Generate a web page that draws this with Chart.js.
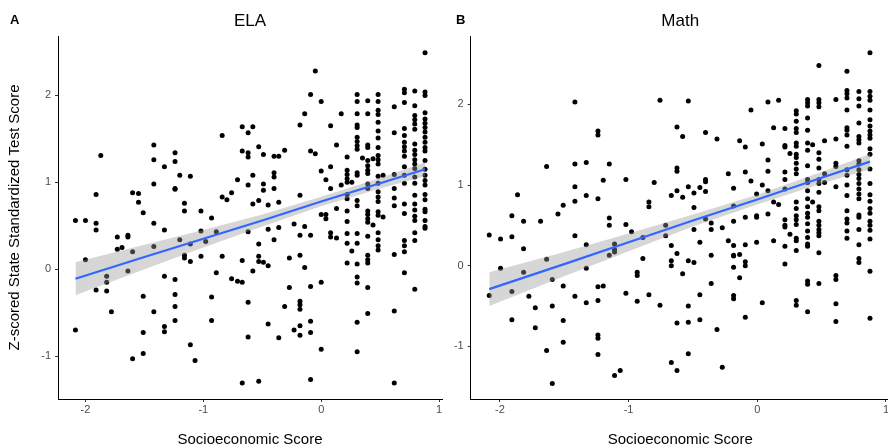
<!DOCTYPE html>
<html><head><meta charset="utf-8">
<script src="https://cdn.jsdelivr.net/npm/chart.js@4/dist/chart.umd.min.js"></script>
<style>
html,body{margin:0;padding:0;background:#fff;overflow:hidden;width:888px;height:447px;position:relative;}
canvas{position:absolute;top:0;}
#ca{left:0;}
#cb{left:446px;}
.lab{position:absolute;font:bold 13px "Liberation Sans",Arial,sans-serif;line-height:13px;color:#000;top:13px;}
</style></head>
<body>
<canvas id="ca" width="446" height="447"></canvas>
<canvas id="cb" width="448" height="447"></canvas>
<div class="lab" style="left:10px">A</div>
<div class="lab" style="left:456px">B</div>
<script>
// ---------- data ----------
const xTickVals = [-2, -1, 0, 1];
const yTickVals = [-1, 0, 1, 2];

const elaColX = [-2.085,-2.0,-1.91,-1.87,-1.82,-1.78,-1.73,-1.69,-1.64,-1.60,-1.55,-1.51,-1.42,-1.33,-1.24,-1.20,-1.16,-1.11,-1.07,-1.02,-0.98,-0.93,-0.89,-0.84,-0.80,-0.76,-0.71,-0.67,-0.62,-0.58,-0.53,-0.49,-0.45,-0.40,-0.36,-0.31,-0.27,-0.23,-0.18,-0.14,-0.09,-0.05,0.0,0.04,0.08,0.13,0.17,0.22,0.26,0.305,0.35,0.395,0.44,0.483,0.525,0.62,0.706,0.794,0.881];
const elaColY = [
[0.56,-0.70],[0.56,0.11],[0.86,0.53,0.45,-0.24],[1.31],[-0.08,-0.15,-0.25],[-0.49],[0.37,0.23],[0.25],
[0.39,0.37,-0.02],[0.88,0.20,-1.03],[0.87,0.77],[0.65,-0.31,-0.73,-0.97],[1.43,1.26,0.98,0.53,0.26,-0.49],
[1.18,0.45,-0.08,-0.66,-0.72],[1.34,1.24,0.93,0.92,-0.12,-0.29,-0.43,-0.59],[1.08,0.34],[0.76,0.67,0.16,0.13],
[1.07,0.29,0.09,-0.87],[-1.05],[0.67,0.44,0.15],[0.32],[0.59,-0.32,-0.59],[0.43,-0.04],[1.54,0.83,0.15],[0.80],
[0.88,-0.11],[1.03,-0.14],[1.64,1.36,0.10,-0.15,-1.31],[1.57,1.34,1.29,0.97,0.43,-0.38,-0.78],[1.64,1.08,0.75,-0.02],
[1.41,0.79,0.29,0.15,0.09,-1.29],[1.32,0.98,0.91,0.08],[0.74,0.46,0.04,-0.63],[1.30,1.11,1.06,0.93,0.34],
[1.30,0.77,0.48,-0.79],[1.37,-0.43],[0.13,-0.21],[0.52,-0.70],[1.66,0.85,0.39,0.16,-0.37,-0.41,-0.46,-0.65,-0.76],
[1.79,0.49,0.02],[2.01,1.36,0.39,-0.20,-0.60,-0.73,-1.27],[2.28,1.33],[1.93,1.13,0.63,-0.15,-0.92],[1.03,0.63,0.58],
[1.65,1.18,0.93,0.42,0.37],[1.43,0.70,0.36],[1.79,0.97],
[1.29,1.14,1.09,1.04,1.00,0.86,0.81,0.67,0.55,0.41,0.30,0.07],[1.00,0.21],
[2.01,1.93,1.79,1.66,1.63,1.52,1.47,1.42,1.38,1.11,1.08,0.79,0.73,0.41,0.30,0.06,-0.09,-0.16,-0.61,-0.95],[1.28],
[1.94,1.79,1.43,1.40,1.25,1.19,1.14,1.10,0.98,0.93,0.67,0.63,0.58,0.54,0.38,0.16,0.11,0.07,-0.21,-0.51],[1.27,0.51],
[2.01,1.93,1.83,1.78,1.69,1.59,1.51,1.40,1.31,1.26,1.21,1.07,0.99,0.89,0.83,0.78,0.66,0.62,0.42,0.34,0.27,0.22],[1.08,0.60],
[1.87,1.57,1.09,0.93,0.82,0.73,0.17,-0.48,-1.31],
[2.07,2.03,1.92,1.62,1.54,1.46,1.41,1.36,1.30,1.18,1.08,0.99,0.75,0.64,0.33,0.27,0.20,-0.04],
[2.05,1.88,1.77,1.72,1.67,1.61,1.44,1.37,1.32,1.26,1.21,1.16,1.06,0.99,0.85,0.75,0.68,0.61,0.56,0.42,0.33,-0.23],
[2.49,2.04,2.00,1.80,1.73,1.68,1.63,1.58,1.52,1.46,1.40,1.36,1.25,1.15,1.08,1.02,0.97,0.86,0.80,0.69,0.66,0.56,0.49,0.47]
];

const mathColX = [-2.083,-1.995,-1.907,-1.863,-1.816,-1.775,-1.725,-1.684,-1.637,-1.593,-1.549,-1.508,-1.417,-1.329,-1.238,-1.197,-1.150,-1.109,-1.065,-1.021,-0.977,-0.933,-0.889,-0.842,-0.801,-0.756,-0.712,-0.668,-0.624,-0.580,-0.536,-0.492,-0.446,-0.402,-0.358,-0.313,-0.272,-0.225,-0.184,-0.137,-0.093,-0.049,-0.005,0.039,0.083,0.127,0.166,0.215,0.254,0.303,0.391,0.430,0.479,0.523,0.611,0.697,0.790,0.876];
const mathColY = [
[0.38,-0.37],[0.33,-0.03],[0.62,0.36,-0.32,-0.67],[0.88],[0.55,0.21,-0.08],[-0.38],[-0.52,-0.77],[0.55],
[1.23,0.08,-1.05],[-0.17,-0.50,-1.46],[0.64],[0.75,-0.25,-0.68,-0.95],[2.03,1.26,0.98,0.80,0.37,-0.38],
[1.28,0.87,0.26,-0.03,-0.46],[1.67,1.62,0.83,-0.26,-0.43,-0.86,-0.90,-1.10],[1.06,-0.25],[1.26,0.59,0.50,0.13],
[0.27,0.20,0.17,-1.36],[-1.30],[1.07,0.51,-0.34],[0.42],[-0.08,-0.12,-0.44],[0.35,0.09],[0.79,0.73,-0.36],[1.03],
[2.05,-0.49],[0.50,0.37],[0.87,0.25,0.06,0.00,-1.20],[1.72,1.21,1.17,0.93,0.15,-0.71,-1.30],[1.60,0.85,-0.10],
[2.04,0.98,0.06,-0.50,-0.70,-1.09],[0.90,0.72,0.45,0.04],[0.97,0.29,-0.36,-0.67],[1.65,1.07,1.04,0.92,0.58],
[0.53,0.45,0.13,-0.22],[1.57,-0.79],[0.47,-1.26],[1.14,0.31],[0.96,0.74,0.55,0.25,0.13,0.12,-0.02,-0.37,-0.41],
[1.55,0.14,-0.15],[1.47,1.16,0.60,0.26,0.05,0.00,-0.64],[1.93,1.05],[0.89,0.62,0.60,0.29],[1.51,1.00,-0.46],
[2.03,1.31,1.17,0.93,0.64],[1.71,0.79,0.31],[2.05,0.76],
[1.70,1.49,1.47,1.16,1.07,0.95,0.57,0.50,0.48,0.24,0.02],[1.39,0.39],
[1.92,1.88,1.79,1.70,1.65,1.52,1.48,1.38,1.34,1.27,1.20,1.14,0.79,0.71,0.62,0.57,0.51,0.34,0.31,0.19,-0.43,-0.49],
[2.06,2.02,1.98,1.83,1.68,1.52,1.43,1.24,1.07,1.03,0.93,0.83,0.73,0.65,0.60,0.52,0.43,0.35,0.27,0.24,-0.19,-0.23,-0.57],
[1.50,0.79],
[2.48,2.06,2.02,1.97,1.40,1.32,1.21,1.07,1.02,0.91,0.73,0.68,0.55,0.50,0.45,0.41,0.37,0.16,-0.22],
[1.55,1.14,1.03],
[2.06,1.57,1.27,1.23,0.98,-0.12,-0.17,-0.47,-0.69],
[2.41,2.17,2.13,2.08,1.93,1.71,1.68,1.62,1.48,1.19,1.12,1.00,0.87,0.68,0.58,0.53,0.43,0.34],
[2.16,2.07,1.98,1.77,1.60,1.56,1.52,1.30,1.26,1.19,1.13,1.08,1.02,0.95,0.89,0.83,0.63,0.60,0.45,0.26,0.09,0.04],
[2.64,2.16,2.10,2.05,1.93,1.81,1.73,1.67,1.62,1.58,1.45,1.38,1.20,1.02,0.88,0.80,0.71,0.65,0.55,0.50,0.44,0.33,-0.07,-0.65]
];

// fitted line and confidence band
const elaFitX   = [-2.085,-1.5,-1.0,-0.5,0.0,0.5,0.881];
const elaFitY   = [-0.11,0.14,0.35,0.56,0.78,0.99,1.15];
const elaUpper  = [0.08,0.28,0.45,0.63,0.835,1.05,1.23];
const elaLower  = [-0.30,0.00,0.25,0.49,0.725,0.93,1.07];
const mathFitX  = [-2.083,-1.5,-1.0,-0.5,0.0,0.5,0.876];
const mathFitY  = [-0.29,0.02,0.29,0.56,0.82,1.09,1.29];
const mathUpper = [-0.08,0.17,0.40,0.635,0.88,1.16,1.385];
const mathLower = [-0.50,-0.13,0.18,0.485,0.76,1.02,1.195];

// ---------- helpers ----------
const FONT = '"Liberation Sans", Arial, Helvetica, sans-serif';
function pts(cx, cy) {
  const out = [];
  cx.forEach((x, i) => cy[i].forEach(y => out.push({x, y})));
  return out;
}
function xy(xs, ys) { return xs.map((x, i) => ({x, y: ys[i]})); }

function makeChart(id, title, cfg) {
  const datasets = [
    {data: xy(cfg.fitX, cfg.fitY), showLine: true, pointRadius: 0, borderColor: '#3366FF', borderWidth: 2.2, fill: false, order: 1},
    {data: xy(cfg.fitX, cfg.upper), showLine: true, pointRadius: 0, borderWidth: 0, borderColor: 'rgba(0,0,0,0)', backgroundColor: 'rgba(153,153,153,0.4)', fill: '+1', order: 2},
    {data: xy(cfg.fitX, cfg.lower), showLine: true, pointRadius: 0, borderWidth: 0, borderColor: 'rgba(0,0,0,0)', fill: false, order: 2},
    {data: pts(cfg.colX, cfg.colY), pointRadius: 2.5, pointBackgroundColor: '#000', pointBorderWidth: 0, showLine: false, order: 3}
  ];
  return new Chart(document.getElementById(id), {
    type: 'scatter',
    data: {datasets},
    options: {
      responsive: false, animation: false, devicePixelRatio: 1,
      layout: {padding: {left: 0, right: cfg.padRight, top: 0, bottom: 0}},
      plugins: {
        legend: {display: false}, tooltip: {enabled: false},
        title: {display: true, text: title, fullSize: false, color: '#000',
                font: {family: FONT, size: 17, weight: 'normal'}, padding: {top: 10.8, bottom: 4.8}}
      },
      scales: {
        x: {
          type: 'linear', min: cfg.xmin, max: cfg.xmax,
          afterFit: s => { s.height = 48; },
          afterBuildTicks: s => { s.ticks = xTickVals.map(v => ({value: v})); },
          ticks: {color: '#4d4d4d', font: {family: FONT, size: 11}, padding: 1, callback: v => String(v)},
          grid: {drawOnChartArea: false, drawTicks: true, tickLength: 3, color: '#333', lineWidth: 1},
          border: {display: true, color: '#000', width: 1},
          title: {display: true, text: 'Socioeconomic Score', color: '#000', font: {family: FONT, size: 15}, padding: {top: 0, bottom: -2}}
        },
        y: {
          type: 'linear', min: cfg.ymin, max: cfg.ymax,
          afterFit: s => { s.width = cfg.yWidth; },
          afterBuildTicks: s => { s.ticks = yTickVals.map(v => ({value: v})); },
          ticks: {color: '#4d4d4d', font: {family: FONT, size: 11}, padding: 4, callback: v => String(v)},
          grid: {drawOnChartArea: false, drawTicks: true, tickLength: 3, color: '#333', lineWidth: 1},
          border: {display: true, color: '#000', width: 1},
          title: {display: cfg.yTitle, text: 'Z-scored State Standardized Test Score', color: '#000', font: {family: FONT, size: 15}, padding: {top: 6, bottom: 0}}
        }
      }
    }
  });
}

makeChart('ca', 'ELA', {
  colX: elaColX, colY: elaColY, fitX: elaFitX, fitY: elaFitY, upper: elaUpper, lower: elaLower,
  xmin: -2.233, xmax: 1.025, ymin: -1.494, ymax: 2.684, yWidth: 58, padRight: 2.7, yTitle: true
});
makeChart('cb', 'Math', {
  colX: mathColX, colY: mathColY, fitX: mathFitX, fitY: mathFitY, upper: mathUpper, lower: mathLower,
  xmin: -2.227, xmax: 1.03, ymin: -1.652, ymax: 2.847, yWidth: 24.7, padRight: 4.2, yTitle: false
});
</script>
</body></html>
